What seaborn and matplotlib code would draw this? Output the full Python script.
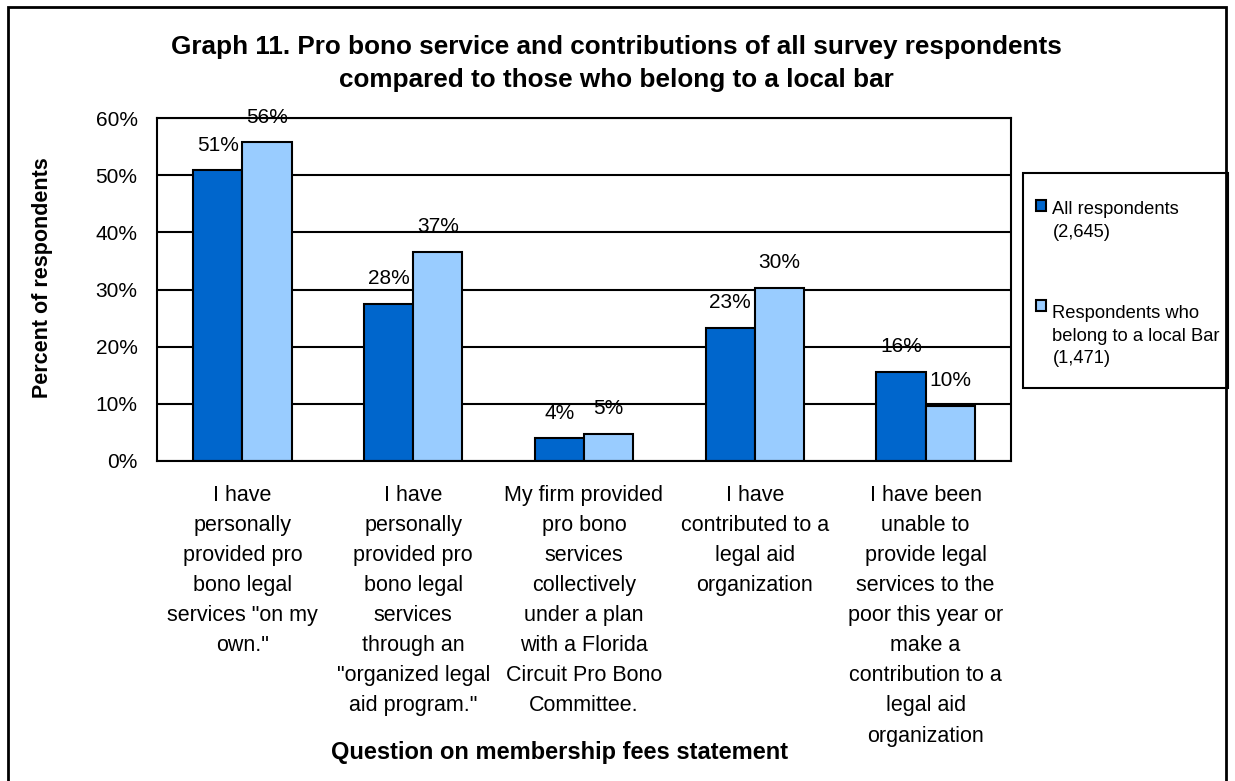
import matplotlib
matplotlib.use("Agg")
import matplotlib.pyplot as plt
from matplotlib.patches import Rectangle
from matplotlib.legend_handler import HandlerPatch
import pandas as pd
import seaborn as sns

# Survey statements (x categories), wrapped as printed under each group
categories = [
    "I have\npersonally\nprovided pro\nbono legal\nservices \"on my\nown.\"",
    "I have\npersonally\nprovided pro\nbono legal\nservices\nthrough an\n\"organized legal\naid program.\"",
    "My firm provided\npro bono\nservices\ncollectively\nunder a plan\nwith a Florida\nCircuit Pro Bono\nCommittee.",
    "I have\ncontributed to a\nlegal aid\norganization",
    "I have been\nunable to\nprovide legal\nservices to the\npoor this year or\nmake a\ncontribution to a\nlegal aid\norganization",
]
series_names = [
    "All respondents\n(2,645)",
    "Respondents who\nbelong to a local Bar\n(1,471)",
]
all_respondents = [50.9, 27.5, 4.0, 23.3, 15.6]
local_bar = [55.8, 36.6, 4.8, 30.3, 9.7]
y_ticks = [0, 10, 20, 30, 40, 50, 60]
y_tick_labels = ["0%", "10%", "20%", "30%", "40%", "50%", "60%"]

df = pd.DataFrame({
    "statement": categories * 2,
    "group": [series_names[0]] * len(categories) + [series_names[1]] * len(categories),
    "pct": all_respondents + local_bar,
})

sns.set_theme(style="white")
plt.rcParams["font.family"] = ["Liberation Sans", "DejaVu Sans"]
plt.rcParams.update({
    "text.color": "black", "axes.labelcolor": "black",
    "xtick.color": "black", "ytick.color": "black",
})

W, H = 1235, 781
fig = plt.figure(figsize=(W / 100, H / 100), dpi=100)
ax = fig.add_axes([157 / W, 1 - 461 / H, (1011 - 157) / W, (461 - 118) / H])
ax.set_axisbelow(True)

palette = {series_names[0]: "#0066CC", series_names[1]: "#99CCFF"}
sns.barplot(
    data=df, x="statement", y="pct", hue="group", order=categories,
    hue_order=series_names, palette=palette, width=0.575, gap=0,
    edgecolor="black", linewidth=1.5, saturation=1, ax=ax,
)

# value labels above each bar
for container in ax.containers:
    for bar in container:
        v = bar.get_height()
        ax.annotate(f"{v:.0f}%", (bar.get_x() + bar.get_width() / 2, v),
                    xytext=(0, 14), textcoords="offset points",
                    ha="center", va="baseline", fontsize=15, color="black")

ax.set_ylim(0, 60)
ax.set_yticks(y_ticks)
ax.set_yticklabels(y_tick_labels, fontsize=15)
ax.yaxis.grid(True, color="black", linewidth=1.5)
ax.xaxis.grid(False)
ax.tick_params(axis="both", length=0)
ax.tick_params(axis="y", pad=14)
ax.tick_params(axis="x", pad=17)
for lab in ax.get_xticklabels():
    lab.set_fontsize(15.5)
    lab.set_linespacing(1.57)
    lab.set_multialignment("center")
for s in ax.spines.values():
    s.set_visible(True)
    s.set_color("black")
    s.set_linewidth(1.5)

ax.set_ylabel("Percent of respondents", fontsize=15.5, fontweight="bold")
ax.yaxis.set_label_coords(-0.122, 0.534)
ax.set_xlabel("Question on membership fees statement", fontsize=17, fontweight="bold")
ax.xaxis.set_label_coords(0.471, -0.815)

# legend: swatch sits level with the first line of each label
LEG_FS = 13.2
LEG_LS = 1.44
line_pt = LEG_FS * 1.2 * LEG_LS * 0.97


def top_line_swatch(n_lines):
    def make(legend, orig_handle, xdescent, ydescent, width, height, fontsize):
        shift = (n_lines - 1) / 2 * line_pt
        return Rectangle((-xdescent, -ydescent + shift), width, height)
    return make


handles, labels = ax.get_legend_handles_labels()
if ax.get_legend() is not None:
    ax.get_legend().remove()
handler_map = {h: HandlerPatch(patch_func=top_line_swatch(lab.count("\n") + 1))
               for h, lab in zip(handles, labels)}
leg = fig.legend(
    handles, labels, loc="upper left", handler_map=handler_map,
    bbox_to_anchor=(1036 / W, 1 - 201 / H), bbox_transform=fig.transFigure,
    borderaxespad=0, borderpad=0, fontsize=LEG_FS, frameon=False,
    handlelength=0.55, handleheight=0.55, handletextpad=0.35,
    labelspacing=3.5,
)
for t in leg.get_texts():
    t.set_linespacing(LEG_LS)
# legend box
fig.patches.append(Rectangle((1023 / W, 1 - 388 / H), (1228 - 1023) / W, (388 - 173) / H,
                             transform=fig.transFigure, fill=False,
                             edgecolor="black", linewidth=1.5))

fig.text(616 / W, 1 - 35 / H,
         "Graph 11. Pro bono service and contributions of all survey respondents\n"
         "compared to those who belong to a local bar",
         ha="center", va="top", fontsize=18.8, fontweight="bold",
         linespacing=1.45, multialignment="center")

# outer chart border
fig.patches.append(Rectangle((8 / W, -0.02), (1226 - 8) / W, 1.02 - 7 / H,
                             transform=fig.transFigure, fill=False,
                             edgecolor="black", linewidth=2))

fig.savefig("out.png", dpi=100)
